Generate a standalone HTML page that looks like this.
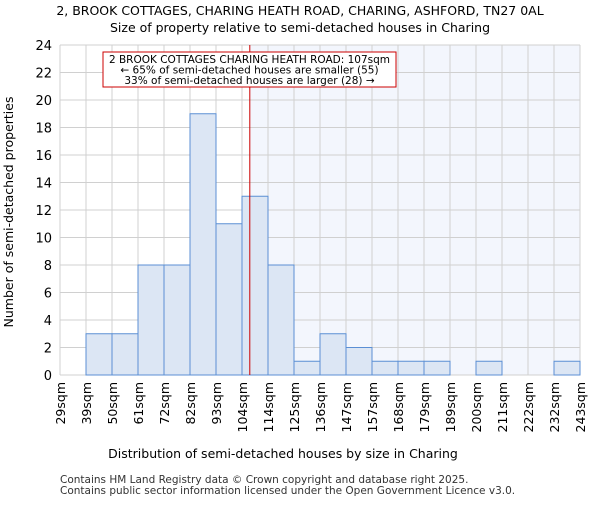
<!DOCTYPE html>
<html><head><meta charset="utf-8"><style>body{margin:0;background:#fff}svg{font-family:"DejaVu Sans","Liberation Sans",sans-serif}</style></head>
<body>
<svg id="c" width="600" height="500" xmlns="http://www.w3.org/2000/svg">
<text x="300" y="15" text-anchor="middle" font-size="12.5">2, BROOK COTTAGES, CHARING HEATH ROAD, CHARING, ASHFORD, TN27 0AL</text>
<text x="300" y="32" text-anchor="middle" font-size="12.5">Size of property relative to semi-detached houses in Charing</text>
<g id="plot"></g>
<text x="283" y="458" text-anchor="middle" font-size="12.5">Distribution of semi-detached houses by size in Charing</text>
<text transform="translate(13,212) rotate(-90)" text-anchor="middle" font-size="12.5">Number of semi-detached properties</text>
<text x="60" y="483" font-size="10.5" fill="#333">Contains HM Land Registry data © Crown copyright and database right 2025.</text>
<text x="60" y="494" font-size="10.5" fill="#333">Contains public sector information licensed under the Open Government Licence v3.0.</text>
</svg>
<script>
const binLabels=["29sqm","39sqm","50sqm","61sqm","72sqm","82sqm","93sqm","104sqm","114sqm","125sqm","136sqm","147sqm","157sqm","168sqm","179sqm","189sqm","200sqm","211sqm","222sqm","232sqm","243sqm"];
const binEdges=[29,39,50,61,72,82,93,104,114,125,136,147,157,168,179,189,200,211,222,232,243];
const counts=[0,3,3,8,8,19,11,13,8,1,3,2,1,1,1,0,1,0,0,1];
const yTicks=[0,2,4,6,8,10,12,14,16,18,20,22,24];
const propertySize=107;
const NS="http://www.w3.org/2000/svg";
const X0=60,X1=580,Y0=375,Y1=45,yMax=24;
const nb=counts.length,bw=(X1-X0)/nb;
const y=v=>Y0-(v/yMax)*(Y0-Y1);
const xi=i=>X0+i*bw;
function xv(v){for(let i=0;i<nb;i++){if(v>=binEdges[i]&&v<=binEdges[i+1])return xi(i)+(v-binEdges[i])/(binEdges[i+1]-binEdges[i])*bw;}return X1;}
const g=document.getElementById('plot');
function mk(t,a){const e=document.createElementNS(NS,t);for(const k in a)e.setAttribute(k,a[k]);g.appendChild(e);return e;}
const lx=xv(propertySize);
let sh=mk('rect',{x:lx,y:Y1,width:X1-lx,height:Y0-Y1,fill:'#f3f6fd'});


for(let i=0;i<=nb;i++){let l=mk('line',{x1:xi(i),x2:xi(i),y1:Y1,y2:Y0,stroke:'#d0d0d0','stroke-width':1});

}
yTicks.forEach(t=>{let l=mk('line',{x1:X0,x2:X1,y1:y(t),y2:y(t),stroke:'#d0d0d0','stroke-width':1});


let tx=mk('text',{x:X0-8,y:y(t)+5,'text-anchor':'end','font-size':13});tx.textContent=t;

});
counts.forEach((c,i)=>{if(c<=0)return;let r=mk('rect',{x:xi(i),y:y(c),width:bw,height:Y0-y(c),fill:'#dce6f4',stroke:'#5b8fd4','stroke-width':1});

});
binLabels.forEach((s,i)=>{let tx=mk('text',{transform:`translate(${xi(i)+5},382) rotate(-90)`,'text-anchor':'end','font-size':12.5});tx.textContent=s;

});
let rl=mk('line',{x1:lx,x2:lx,y1:Y1,y2:Y0,stroke:'#cc0000','stroke-width':1});


let bx=mk('rect',{x:103,y:52,width:293,height:35,fill:'#fff',stroke:'#cc0000','stroke-width':1});


["2 BROOK COTTAGES CHARING HEATH ROAD: 107sqm","← 65% of semi-detached houses are smaller (55)","33% of semi-detached houses are larger (28) →"].forEach((s,k)=>{let tx=mk('text',{x:249.5,y:63+k*10.5,'text-anchor':'middle','font-size':10.5});tx.textContent=s;

});
</script>
</body></html>
